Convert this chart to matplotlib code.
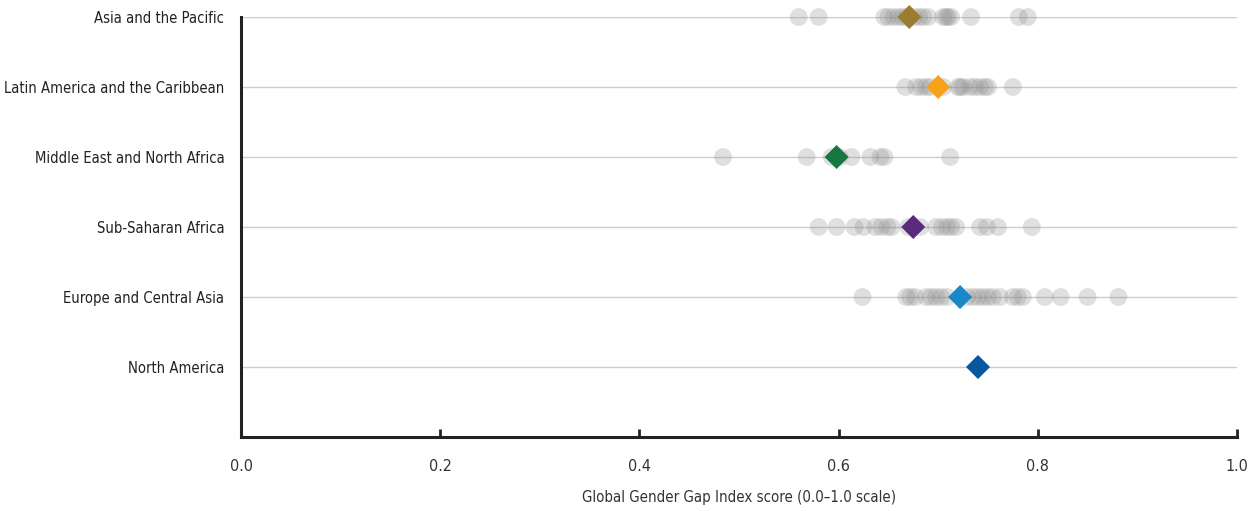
import matplotlib.pyplot as plt

regions = ['Asia and the Pacific', 'Latin America and the Caribbean', 'Middle East and North Africa',
           'Sub-Saharan Africa', 'Europe and Central Asia', 'North America']

# country scores per region (grey dots)
asia = [0.560, 0.580, 0.646, 0.650, 0.655, 0.660, 0.664, 0.668, 0.676, 0.681, 0.685, 0.690,
        0.705, 0.708, 0.710, 0.713, 0.733, 0.781, 0.790]
latam = [0.667, 0.678, 0.683, 0.688, 0.692, 0.705, 0.720, 0.722, 0.725, 0.732, 0.737, 0.742,
         0.747, 0.750, 0.775]
mena = [0.484, 0.568, 0.593, 0.601, 0.613, 0.632, 0.642, 0.646, 0.712]
ssa = [0.580, 0.598, 0.616, 0.625, 0.637, 0.643, 0.649, 0.653, 0.670, 0.682, 0.698, 0.704,
       0.709, 0.713, 0.718, 0.742, 0.749, 0.760, 0.794]
europe = [0.624, 0.668, 0.672, 0.677, 0.688, 0.693, 0.698, 0.703, 0.709, 0.729, 0.735, 0.740,
          0.745, 0.750, 0.755, 0.762, 0.775, 0.780, 0.785, 0.807, 0.823, 0.850, 0.881]
namerica = []

# regional averages (diamonds)
averages = [0.671, 0.700, 0.598, 0.675, 0.722, 0.740]
avg_colors = ['#9a7d2e', '#f7a21b', '#16783e', '#5b2a7c', '#1a87c9', '#0757a0']

countries = [asia, latam, mena, ssa, europe, namerica]

plt.rcParams['font.family'] = ['DejaVu Sans']
plt.rcParams['font.stretch'] = 'condensed'

fig = plt.figure(figsize=(12.54, 5.11), dpi=100)
ax = fig.add_axes([0.1922, 0.1448, 0.7942, 0.8219])

for i, vals in enumerate(countries):
    ax.axhline(i, color='#cccccc', lw=1, zorder=1)
    if vals:
        ax.scatter(vals, [i] * len(vals), s=165, color='#8c8c8c', alpha=0.27,
                   edgecolors='none', zorder=2, clip_on=False)
    ax.scatter([averages[i]], [i], marker='D', s=150, color=avg_colors[i],
               edgecolors='none', zorder=3, clip_on=False)

ax.set_xlim(0, 1.0)
ax.set_ylim(len(regions), 0)
ax.set_yticks(range(len(regions)))
ax.set_yticklabels(regions, fontsize=10.6, color='#222222')
ax.set_xticks([0, 0.2, 0.4, 0.6, 0.8, 1.0])
ax.set_xticklabels(['0.0', '0.2', '0.4', '0.6', '0.8', '1.0'], fontsize=11.5, color='#333333')
ax.tick_params(axis='y', length=0, pad=12)
ax.tick_params(axis='x', direction='in', length=6, width=2, pad=16, color='#222222')
ax.set_xlabel('Global Gender Gap Index score (0.0–1.0 scale)', fontsize=10.8, color='#333333', labelpad=11)

for s in ['top', 'right']:
    ax.spines[s].set_visible(False)
for s in ['left', 'bottom']:
    ax.spines[s].set_linewidth(2.2)
    ax.spines[s].set_color('#222222')

fig.savefig('out.png', dpi=100)
